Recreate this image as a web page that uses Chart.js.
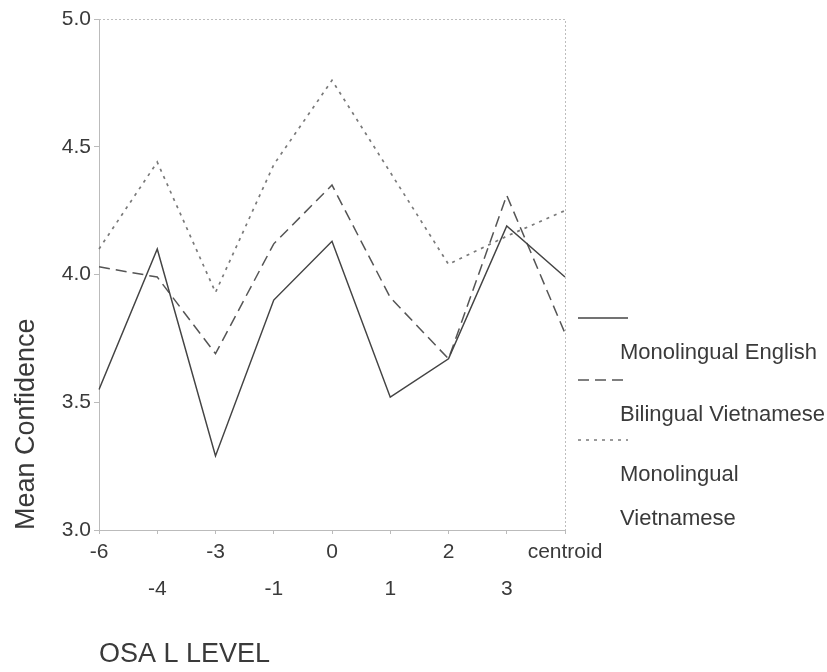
<!DOCTYPE html>
<html>
<head>
<meta charset="utf-8">
<script src="https://cdn.jsdelivr.net/npm/chart.js@4"></script>
<style>
  body { margin: 0; background: #fff; }
  #wrap { width: 827px; height: 672px; position: relative; }
</style>
</head>
<body>
<div id="wrap"><canvas id="meanChart" width="827" height="672"></canvas></div>
<script>
const levels = ['-6', '-4', '-3', '-1', '0', '1', '2', '3', 'centroid'];
const monoEnglish = [3.55, 4.10, 3.29, 3.90, 4.13, 3.52, 3.67, 4.19, 3.99];
const biViet = [4.03, 3.99, 3.69, 4.12, 4.35, 3.91, 3.67, 4.31, 3.77];
const monoViet = [4.10, 4.44, 3.93, 4.43, 4.76, 4.40, 4.04, 4.15, 4.25];
const legendLines = [['Monolingual English'], ['Bilingual Vietnamese'], ['Monolingual', 'Vietnamese']];

const textCol = '#3a3a3a';
const fam = '"Liberation Sans", Arial, sans-serif';

// box round the plot + legend at the side
const sideLegend = {
  id: 'sideLegend',
  afterDraw(chart) {
    const ctx = chart.ctx;
    const a = chart.chartArea;
    ctx.save();
    ctx.strokeStyle = '#bdbdbd';
    ctx.lineWidth = 1;
    ctx.setLineDash([2, 2]);
    ctx.beginPath();
    ctx.moveTo(a.left, a.top + 0.5);
    ctx.lineTo(a.right + 0.5, a.top + 0.5);
    ctx.lineTo(a.right + 0.5, a.bottom);
    ctx.stroke();

    const sampleY = [318, 380, 440];
    const textY = [[353], [415], [475, 519]];
    chart.data.datasets.forEach((ds, i) => {
      ctx.strokeStyle = ds.borderColor;
      ctx.lineWidth = ds.borderWidth;
      ctx.setLineDash(ds.borderDash || []);
      ctx.beginPath();
      ctx.moveTo(578, sampleY[i]);
      ctx.lineTo(628, sampleY[i]);
      ctx.stroke();
      ctx.fillStyle = textCol;
      ctx.font = '22px ' + fam;
      ctx.textBaseline = 'middle';
      legendLines[i].forEach((t, j) => ctx.fillText(t, 620, textY[i][j]));
    });
    ctx.restore();
  }
};

new Chart(document.getElementById('meanChart'), {
  type: 'line',
  data: {
    labels: levels,
    datasets: [
      { label: 'Monolingual English', data: monoEnglish, borderColor: '#444', borderWidth: 1.5, borderDash: [] },
      { label: 'Bilingual Vietnamese', data: biViet, borderColor: '#555', borderWidth: 1.5, borderDash: [11, 6] },
      { label: 'Monolingual Vietnamese', data: monoViet, borderColor: '#7a7a7a', borderWidth: 1.7, borderDash: [3, 5] }
    ]
  },
  options: {
    responsive: false,
    animation: false,
    elements: { point: { radius: 0 }, line: { tension: 0 } },
    layout: { padding: { top: 19, right: 262, left: 0, bottom: 0 } },
    plugins: { legend: { display: false }, tooltip: { enabled: false } },
    scales: {
      x: {
        offset: false,
        grid: { drawOnChartArea: false, tickLength: 4, color: '#bbb' },
        border: { color: '#bbb', dash: [2, 2] },
        ticks: {
          color: textCol,
          font: { size: 21, family: fam, lineHeight: 1.8 },
          maxRotation: 0,
          autoSkip: false,
          padding: -1,
          callback: (v, i) => i % 2 === 0 ? levels[i] : ['', levels[i]]
        },
        title: {
          display: true,
          text: 'OSA L LEVEL',
          align: 'start',
          color: textCol,
          font: { size: 27, family: fam },
          padding: { top: 0, bottom: 1 }
        },
        afterFit: s => { s.height = 142; }
      },
      y: {
        min: 3.0,
        max: 5.0,
        grid: { drawOnChartArea: false, tickLength: 5, color: '#bbb' },
        border: { color: '#bbb', dash: [2, 2] },
        ticks: {
          stepSize: 0.5,
          color: textCol,
          padding: 3,
          font: { size: 21, family: fam },
          callback: v => v.toFixed(1)
        },
        title: {
          display: true,
          text: 'Mean Confidence',
          align: 'start',
          color: textCol,
          font: { size: 27, family: fam },
          padding: { top: 10, bottom: 0 }
        },
        afterFit: s => { s.width = 99; }
      }
    }
  },
  plugins: [sideLegend]
});
</script>
</body>
</html>
